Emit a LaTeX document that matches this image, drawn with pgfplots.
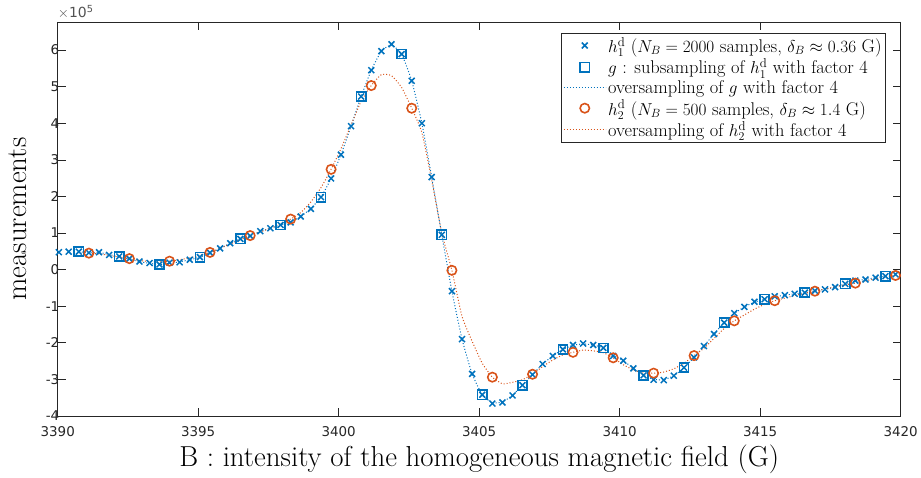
\documentclass[border=0pt]{standalone}
\usepackage{fontspec}
\usepackage{pgfplots}
\pgfplotsset{compat=1.18}
\newfontfamily\tickfont{DejaVu Sans}
\definecolor{mblue}{rgb}{0,0.447,0.741}
\definecolor{morange}{rgb}{0.85,0.325,0.098}
\definecolor{axgray}{rgb}{0.15,0.15,0.15}
\pgfplotsset{
  legmark/.style={legend image code/.code={\draw[mark repeat=2,mark phase=2,##1] plot coordinates {(0pt,0pt) (21pt,0pt) (42pt,0pt)};}},
  legline/.style={legend image code/.code={\draw[##1] (0pt,0pt) -- (42pt,0pt);}},
}

% h1 (crosses), every 0.359 G
\pgfplotstableread{
x y
3390.04 0.475
3390.39 0.49
3390.75 0.49
3391.11 0.46
3391.47 0.475
3391.83 0.40
3392.19 0.36
3392.55 0.30
3392.91 0.22
3393.27 0.18
3393.62 0.14
3393.98 0.19
3394.34 0.20
3394.70 0.27
3395.06 0.34
3395.42 0.46
3395.78 0.58
3396.14 0.72
3396.50 0.84
3396.85 0.92
3397.21 1.05
3397.57 1.13
3397.93 1.22
3398.29 1.29
3398.65 1.45
3399.01 1.66
3399.37 1.98
3399.73 2.49
3400.08 3.14
3400.44 3.92
3400.80 4.73
3401.16 5.45
3401.52 5.97
3401.88 6.16
3402.24 5.89
3402.60 5.16
3402.96 4.00
3403.31 2.53
3403.67 0.95
3404.03 -0.59
3404.39 -1.90
3404.75 -2.85
3405.11 -3.42
3405.47 -3.66
3405.83 -3.63
3406.19 -3.44
3406.54 -3.16
3406.90 -2.87
3407.26 -2.58
3407.62 -2.36
3407.98 -2.18
3408.34 -2.06
3408.70 -2.02
3409.06 -2.06
3409.42 -2.14
3409.77 -2.36
3410.13 -2.49
3410.49 -2.70
3410.85 -2.89
3411.21 -3.01
3411.57 -3.02
3411.93 -2.90
3412.29 -2.68
3412.65 -2.40
3413.00 -2.09
3413.36 -1.76
3413.72 -1.45
3414.08 -1.19
3414.44 -1.02
3414.80 -0.88
3415.16 -0.81
3415.52 -0.73
3415.88 -0.70
3416.23 -0.66
3416.59 -0.63
3416.95 -0.58
3417.31 -0.54
3417.67 -0.48
3418.03 -0.39
3418.39 -0.30
3418.75 -0.27
3419.11 -0.22
3419.46 -0.18
3419.82 -0.13
}\hone

% g : every 4th sample of h1
\pgfplotstableread{
x y
3390.75 0.49
3392.19 0.36
3393.62 0.14
3395.06 0.34
3396.50 0.84
3397.93 1.22
3399.37 1.98
3400.80 4.73
3402.24 5.89
3403.67 0.95
3405.11 -3.42
3406.54 -3.16
3407.98 -2.18
3409.42 -2.14
3410.85 -2.89
3412.29 -2.68
3413.72 -1.45
3415.16 -0.81
3416.59 -0.63
3418.03 -0.39
3419.46 -0.18
}\gsub

% oversampling of g
\pgfplotstableread{
x y
3390.75 0.49
3391.11 0.46
3391.47 0.47
3391.83 0.41
3392.19 0.36
3392.55 0.29
3392.91 0.22
3393.27 0.17
3393.62 0.14
3393.98 0.17
3394.34 0.21
3394.70 0.27
3395.06 0.34
3395.42 0.45
3395.78 0.58
3396.14 0.72
3396.50 0.84
3396.85 0.93
3397.21 1.04
3397.57 1.13
3397.93 1.22
3398.29 1.30
3398.65 1.45
3399.01 1.67
3399.37 1.98
3399.73 2.49
3400.08 3.14
3400.44 3.92
3400.80 4.73
3401.16 5.45
3401.52 5.97
3401.88 6.14
3402.24 5.89
3402.60 5.16
3402.96 4.00
3403.31 2.53
3403.67 0.95
3404.03 -0.59
3404.39 -1.90
3404.75 -2.85
3405.11 -3.42
3405.47 -3.64
3405.83 -3.62
3406.19 -3.43
3406.54 -3.16
3406.90 -2.87
3407.26 -2.58
3407.62 -2.36
3407.98 -2.18
3408.34 -2.07
3408.70 -2.03
3409.06 -2.06
3409.42 -2.14
3409.77 -2.34
3410.13 -2.49
3410.49 -2.70
3410.85 -2.89
3411.21 -3.00
3411.57 -3.01
3411.93 -2.90
3412.29 -2.68
3412.65 -2.40
3413.00 -2.09
3413.36 -1.76
3413.72 -1.45
3414.08 -1.20
3414.44 -1.02
3414.80 -0.89
3415.16 -0.81
3415.52 -0.74
3415.88 -0.70
3416.23 -0.66
3416.59 -0.63
3416.95 -0.58
3417.31 -0.54
3417.67 -0.48
3418.03 -0.39
3418.39 -0.31
3418.75 -0.27
3419.11 -0.22
3419.46 -0.18
}\gover

% h2 (circles), every 1.436 G
\pgfplotstableread{
x y
3391.11 0.45
3392.55 0.30
3393.98 0.23
3395.42 0.47
3396.85 0.93
3398.29 1.38
3399.73 2.74
3401.16 5.03
3402.60 4.41
3404.03 -0.02
3405.47 -2.94
3406.90 -2.86
3408.34 -2.26
3409.77 -2.41
3411.21 -2.83
3412.65 -2.35
3414.08 -1.40
3415.52 -0.85
3416.95 -0.59
3418.39 -0.37
3419.82 -0.16
}\htwo

% oversampling of h2
\pgfplotstableread{
x y
3391.11 0.45
3391.47 0.43
3391.83 0.39
3392.19 0.34
3392.55 0.30
3392.91 0.25
3393.27 0.22
3393.62 0.21
3393.98 0.23
3394.34 0.27
3394.70 0.32
3395.06 0.39
3395.42 0.47
3395.78 0.58
3396.14 0.70
3396.50 0.82
3396.85 0.93
3397.21 1.03
3397.57 1.13
3397.93 1.25
3398.29 1.38
3398.65 1.56
3399.01 1.85
3399.37 2.24
3399.73 2.74
3400.08 3.30
3400.44 3.95
3400.80 4.60
3401.16 5.03
3401.52 5.33
3401.88 5.30
3402.24 4.98
3402.60 4.41
3402.96 3.75
3403.31 2.45
3403.67 1.00
3404.03 -0.02
3404.39 -1.28
3404.75 -1.96
3405.11 -2.56
3405.47 -2.94
3405.83 -3.12
3406.19 -3.08
3406.54 -3.01
3406.90 -2.86
3407.26 -2.65
3407.62 -2.47
3407.98 -2.33
3408.34 -2.26
3408.70 -2.20
3409.06 -2.22
3409.42 -2.27
3409.77 -2.41
3410.13 -2.60
3410.49 -2.74
3410.85 -2.83
3411.21 -2.83
3411.57 -2.80
3411.93 -2.71
3412.29 -2.56
3412.65 -2.35
3413.00 -2.15
3413.36 -1.88
3413.72 -1.61
3414.08 -1.40
3414.44 -1.24
3414.80 -1.08
3415.16 -0.95
3415.52 -0.85
3415.88 -0.78
3416.23 -0.71
3416.59 -0.65
3416.95 -0.59
3417.31 -0.53
3417.67 -0.47
3418.03 -0.42
3418.39 -0.37
3418.75 -0.31
3419.11 -0.25
3419.46 -0.20
3419.82 -0.16
}\hover

\begin{document}
\begin{tikzpicture}
\begin{axis}[
    scale only axis,
    width=847pt, height=396pt,
    xmin=3390, xmax=3420,
    ymin=-4, ymax=6.77,
    xtick={3390,3395,...,3420},
    ytick={-4,-3,...,6},
    tick align=inside,
    major tick length=8pt,
    axis line style={axgray, line width=0.6pt},
    every tick/.style={axgray, line width=0.6pt},
    /pgf/number format/assume math mode=true,
    /pgf/number format/1000 sep={},
    ticklabel style={font=\tickfont\fontsize{13.5}{16}\selectfont, text=axgray},
    xticklabel style={yshift=-7pt},
    yticklabel style={xshift=5pt},
    xlabel={B : intensity of the homogeneous magnetic field (G)},
    ylabel={measurements},
    every axis x label/.style={at={(rel axis cs:0.5,0)}, anchor=base, yshift=-51pt, font=\fontsize{29}{35}\selectfont},
    every axis y label/.style={at={(rel axis cs:-0.0472,0.5)}, rotate=90, anchor=center, font=\fontsize{29}{35}\selectfont},
    legend style={at={(rel axis cs:0.9825,0.972)}, anchor=north east,
        draw=axgray, line width=0.5pt, font=\fontsize{18.5}{21}\selectfont,
        inner xsep=2pt, inner ysep=2pt, row sep=1pt},
    legend cell align=left,
]
\addplot[only marks, mblue, mark=x, mark size=4.2pt, line width=1.5pt, legmark]
    table {\hone};
\addlegendentry{$h_1^{\mathrm{d}}$ ($N_B = 2000$ samples, $\delta_B \approx 0.36$ G)}

\addplot[only marks, mblue, mark=square, mark size=4.6pt, line width=1.6pt, legmark]
    table {\gsub};
\addlegendentry{$g$ : subsampling of $h_1^{\mathrm{d}}$ with factor 4}

\addplot[mblue, line width=1pt, dash pattern=on 1pt off 2pt, smooth, tension=0.3, legline]
    table {\gover};
\addlegendentry{oversampling of $g$ with factor 4}

\addplot[only marks, morange, mark=o, mark size=4.7pt, line width=1.6pt, legmark]
    table {\htwo};
\addlegendentry{$h_2^{\mathrm{d}}$ ($N_B = 500$ samples, $\delta_B \approx 1.4$ G)}

\addplot[morange, line width=1pt, dash pattern=on 1pt off 2pt, smooth, tension=0.3, legline]
    table {\hover};
\addlegendentry{oversampling of $h_2^{\mathrm{d}}$ with factor 4}

\coordinate (BL) at (rel axis cs:0,0);
\coordinate (TR) at (rel axis cs:1,1);
\end{axis}
\node[anchor=south west, font=\tickfont\fontsize{14}{16}\selectfont, text=axgray!80, inner sep=0pt]
    at ([yshift=3pt]BL |- TR) {$\times$10\textsuperscript{5}};
\path ([shift={(-58pt,-57pt)}]BL) rectangle ([shift={(16pt,22pt)}]TR);
\end{tikzpicture}
\end{document}
